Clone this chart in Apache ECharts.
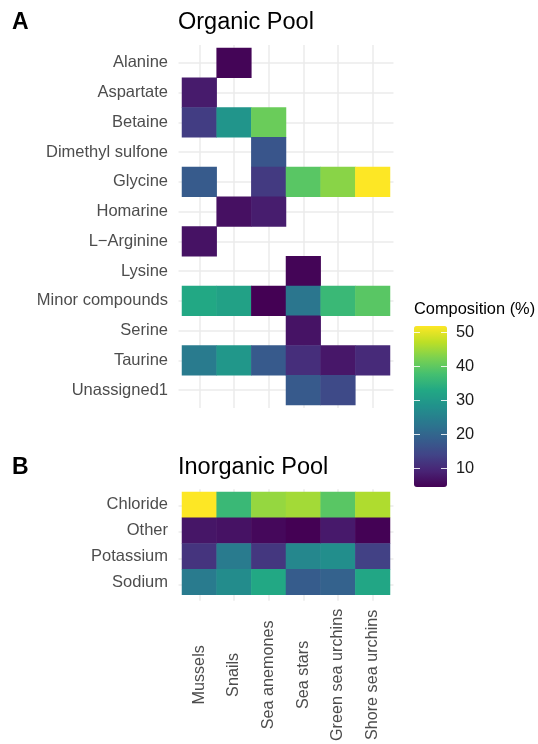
<!DOCTYPE html>
<html><head><meta charset="utf-8">
<script src="https://cdn.jsdelivr.net/npm/echarts@6/dist/echarts.min.js"></script>
<style>html,body{margin:0;padding:0;background:#fff}#c{width:538px;height:744px}</style>
</head><body><div id="c"></div>
<script>
// ---- data ----
const species = ['Mussels', 'Snails', 'Sea anemones', 'Sea stars', 'Green sea urchins', 'Shore sea urchins'];
const organicRows = ['Alanine', 'Aspartate', 'Betaine', 'Dimethyl sulfone', 'Glycine', 'Homarine', 'L\u2212Arginine', 'Lysine', 'Minor compounds', 'Serine', 'Taurine', 'Unassigned1'];
const inorganicRows = ['Chloride', 'Other', 'Potassium', 'Sodium'];

// organic composition (%), one array per species, order = organicRows
const orgMussels    = [null, 8.0, 13.0, null, 18.0, null, 6.8, null, 33.0, null, 24.0, null];
const orgSnails     = [5.0, null, 29.0, null, null, 6.5, null, null, 31.5, null, 29.5, null];
const orgAnemones   = [null, null, 41.0, 17.0, 12.5, 8.3, null, null, 4.5, null, 17.8, null];
const orgSeaStars   = [null, null, null, null, 39.5, null, null, 5.0, 23.0, 7.0, 10.7, 17.8];
const orgGreenUrch  = [null, null, null, null, 43.5, null, null, null, 36.3, null, 7.5, 15.0];
const orgShoreUrch  = [null, null, null, null, 51.9, null, null, null, 39.5, null, 10.2, null];

// inorganic composition (%), order = inorganicRows
const inoMussels    = [51.9, 7.3, 11.6, 24.0];
const inoSnails     = [36.3, 6.8, 24.0, 27.3];
const inoAnemones   = [44.3, 5.5, 12.0, 33.0];
const inoSeaStars   = [45.3, 4.5, 26.3, 18.2];
const inoGreenUrch  = [39.5, 7.8, 27.7, 19.2];
const inoShoreUrch  = [46.2, 4.6, 13.5, 32.5];

const legendTicks = [10, 20, 30, 40, 50];
const colorMin = 4.5;
const colorMax = 51.9;

// ---- build ----
const viridis = ['#440154', '#482475', '#414487', '#355f8d', '#2a788e', '#21918c', '#22a884', '#44bf70', '#7ad151', '#bddf26', '#fde725'];
const FONT = 'Liberation Sans, Arial, Helvetica, sans-serif';

function toCells(cols) {
  const out = [];
  cols.forEach((col, xi) => col.forEach((v, yi) => { if (v != null) out.push([xi, yi, v]); }));
  return out;
}
const organicData = toCells([orgMussels, orgSnails, orgAnemones, orgSeaStars, orgGreenUrch, orgShoreUrch]);
const inorganicData = toCells([inoMussels, inoSnails, inoAnemones, inoSeaStars, inoGreenUrch, inoShoreUrch]);

// fine categorical scale for background grid lines (panel expanded 0.1 cell each side)
function fine(n) { return Array.from({length: 10 * n + 3}, (_, i) => String(i)); }
const gridLineInterval = (i) => i % 10 === 6;
const gridLine = { show: true, interval: gridLineInterval, lineStyle: { color: '#ebebeb', width: 1.5 } };
function bgAxis(n, gi) {
  return { type: 'category', gridIndex: gi, data: fine(n), boundaryGap: false,
    axisLine: {show: false}, axisTick: {show: false}, axisLabel: {show: false}, splitLine: gridLine };
}
const yLabel = { interval: 0, margin: 14, fontSize: 16.5, color: '#4d4d4d', fontFamily: FONT, padding: [4, 0, 0, 0] };

const chart = echarts.init(document.getElementById('c'), null, {renderer: 'canvas'});
chart.setOption({
  animation: false,
  backgroundColor: '#ffffff',
  textStyle: { fontFamily: FONT },
  title: [
    { text: 'A', left: 12, top: 11, padding: 0, textStyle: { fontFamily: FONT, fontSize: 23, fontWeight: 'bold', color: '#000' } },
    { text: 'Organic Pool', left: 178, top: 11, padding: 0, textStyle: { fontFamily: FONT, fontSize: 23.5, fontWeight: 'normal', color: '#000' } },
    { text: 'B', left: 12, top: 456, padding: 0, textStyle: { fontFamily: FONT, fontSize: 23, fontWeight: 'bold', color: '#000' } },
    { text: 'Inorganic Pool', left: 178, top: 456, padding: 0, textStyle: { fontFamily: FONT, fontSize: 23.5, fontWeight: 'normal', color: '#000' } },
    { text: 'Composition (%)', left: 414, top: 301, padding: 0, textStyle: { fontFamily: FONT, fontSize: 16.4, fontWeight: 'normal', color: '#000' } }
  ],
  grid: [
    { left: 178.5, top: 45, width: 215, height: 363 },
    { left: 182, top: 48, width: 208, height: 357 },
    { left: 178.5, top: 489.35, width: 215, height: 111.3 },
    { left: 182, top: 492, width: 208, height: 106 },
    { left: 414, top: 326, width: 33, height: 161 }
  ],
  xAxis: [
    bgAxis(6, 0),
    { type: 'category', gridIndex: 1, data: species, axisLine: {show: false}, axisTick: {show: false}, axisLabel: {show: false}, splitLine: {show: false} },
    bgAxis(6, 2),
    { type: 'category', gridIndex: 3, data: species, axisLine: {show: false}, axisTick: {show: false}, splitLine: {show: false},
      axisLabel: { interval: 0, rotate: 90, align: 'center', verticalAlign: 'middle', margin: 80, fontSize: 16.2, color: '#4d4d4d', fontFamily: FONT } },
    { type: 'value', gridIndex: 4, show: false }
  ],
  yAxis: [
    bgAxis(12, 0),
    { type: 'category', gridIndex: 1, data: organicRows, inverse: true, axisLine: {show: false}, axisTick: {show: false}, splitLine: {show: false},
      axisLabel: yLabel },
    bgAxis(4, 2),
    { type: 'category', gridIndex: 3, data: inorganicRows, inverse: true, axisLine: {show: false}, axisTick: {show: false}, splitLine: {show: false},
      axisLabel: yLabel },
    { type: 'value', gridIndex: 4, min: colorMin, max: colorMax, position: 'left', z: 10,
      axisLine: {show: false}, splitLine: {show: false}, axisLabel: {show: false},
      axisTick: { show: true, inside: true, length: 6, customValues: legendTicks, lineStyle: { color: 'rgba(255,255,255,0.85)', width: 1 } } },
    { type: 'value', gridIndex: 4, min: colorMin, max: colorMax, position: 'right', z: 10,
      axisLine: {show: false}, splitLine: {show: false},
      axisTick: { show: true, inside: true, length: 6, customValues: legendTicks, lineStyle: { color: 'rgba(255,255,255,0.85)', width: 1 } },
      axisLabel: { show: true, margin: 9, customValues: legendTicks, fontSize: 16.4, color: '#1a1a1a', fontFamily: FONT, padding: [2, 0, 0, 0] } }
  ],
  visualMap: {
    type: 'continuous', min: colorMin, max: colorMax, calculable: false, hoverLink: false,
    seriesIndex: [0, 1], left: 414, top: 326, padding: 0, itemWidth: 33, itemHeight: 161,
    inRange: { color: viridis }
  },
  series: [
    { type: 'heatmap', xAxisIndex: 1, yAxisIndex: 1, data: organicData, emphasis: { disabled: true } },
    { type: 'heatmap', xAxisIndex: 3, yAxisIndex: 3, data: inorganicData, emphasis: { disabled: true } }
  ]
});
</script>
</body></html>
